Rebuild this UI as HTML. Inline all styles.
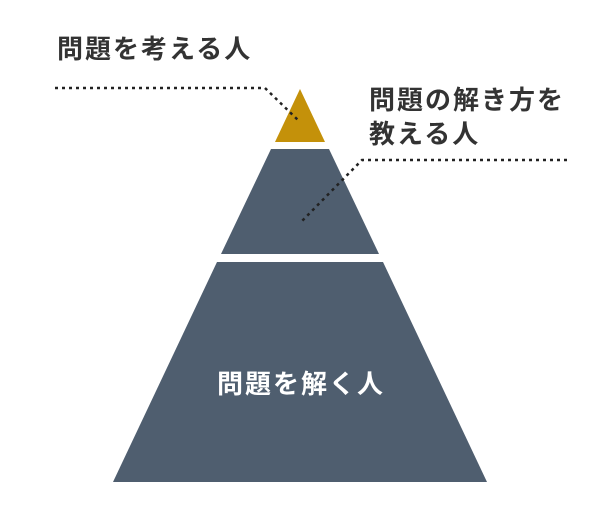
<!DOCTYPE html>
<html><head><meta charset="utf-8"><style>
html,body{margin:0;padding:0;background:#fff;}
body{width:600px;height:519px;position:relative;overflow:hidden;font-family:"Liberation Sans","Noto Sans CJK JP",sans-serif;}
.t{position:absolute;font-weight:bold;font-size:26px;line-height:34px;color:#333;letter-spacing:2px;white-space:nowrap;}
</style></head><body>
<svg width="600" height="519" style="position:absolute;left:0;top:0">
<polygon points="300,89 325,142 275,142" fill="#c4910a"/>
<polygon points="271,149 329,149 379,254 221,254" fill="#4f5e6f"/>
<polygon points="217,262 383,262 487,482 113,482" fill="#4f5e6f"/>
<polyline points="55,88 265,88 300,122" fill="none" stroke="#222" stroke-width="2.5" stroke-dasharray="3,4"/>
<polyline points="567,160 362,160 300,223" fill="none" stroke="#222" stroke-width="2.5" stroke-dasharray="3,4"/>
<text x="301" y="393" text-anchor="middle" font-family="Liberation Sans,Noto Sans CJK JP,sans-serif" font-weight="bold" font-size="26" fill="#fff" letter-spacing="2">問題を解く人</text>
</svg>
<div class="t" style="left:57px;top:32px;">問題を考える人</div>
<div class="t" style="left:369px;top:83px;">問題の解き方を<br>教える人</div>
</body></html>
